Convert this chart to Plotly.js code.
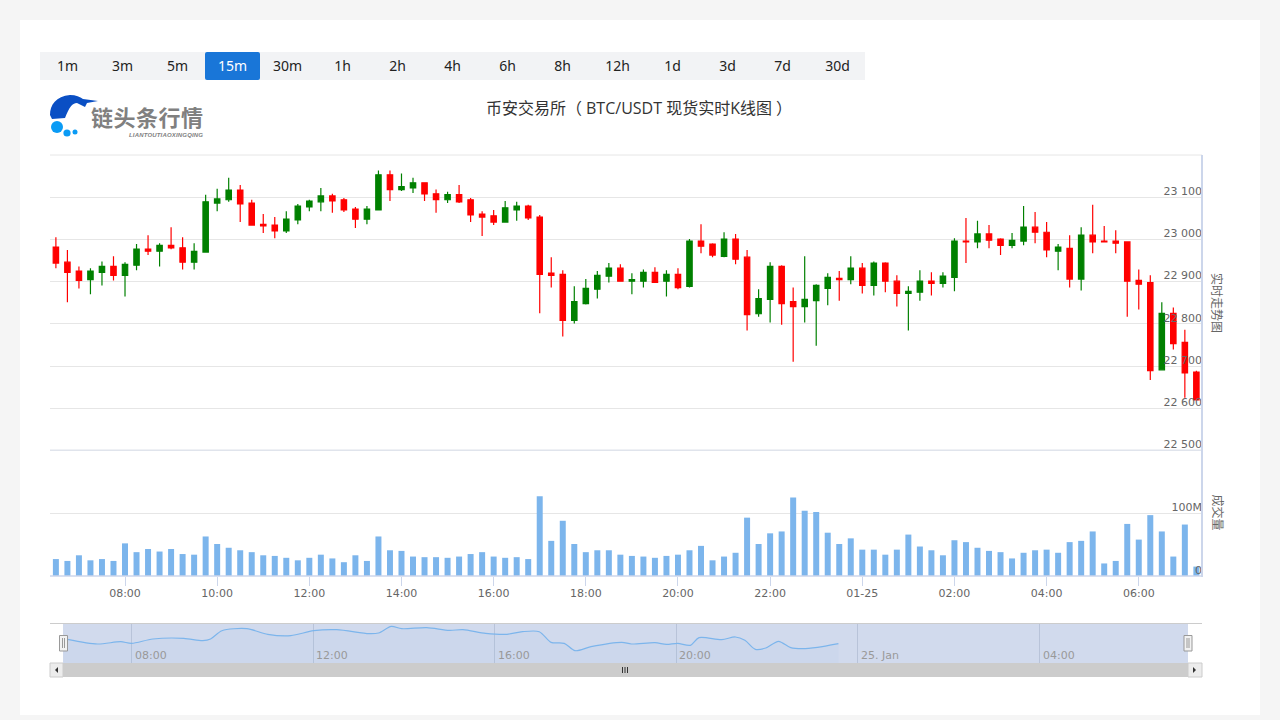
<!DOCTYPE html>
<html><head><meta charset="utf-8">
<script src="https://cdn.plot.ly/plotly-3.0.1.min.js"></script>
<style>
html,body{margin:0;padding:0;width:1280px;height:720px;background:#f5f5f5;overflow:hidden}
#panel{position:absolute;left:20px;top:20px;width:1240px;height:695px;background:#fff}
#chart{position:absolute;left:0;top:0;width:1280px;height:720px}
#bar{position:absolute;left:40px;top:52px;height:28px;display:flex;background:#f2f3f5;z-index:2}
#bar div{width:55px;height:28px;line-height:28px;text-align:center;font:14px/28px "Noto Sans",sans-serif;color:#222;border-radius:2px}
#bar div.on{background:#1976d8;color:#fff}
#logo{position:absolute;left:45px;top:90px;z-index:2}
</style></head><body>
<div id="panel"></div>
<div id="chart"></div>
<div id="bar"></div>
<svg id="logo" width="170" height="52" viewBox="45 90 170 52">
<path d="M50 115C50 105 56 96 70 95C76 95 80 97 83 99L98 101L87 103L85 107L77 103C72 103 69 108 65 118L52 119Z" fill="#0a4fc4"/>
<circle cx="57" cy="127" r="6" fill="#0a9bf5"/><circle cx="67" cy="133" r="3.6" fill="#0a9bf5"/><circle cx="75" cy="132" r="2.5" fill="#0a9bf5"/>
<text x="91" y="126" font-family="Noto Sans CJK SC" font-weight="700" font-size="22" fill="#808080" textLength="112">链头条行情</text>
<text x="129" y="137" font-family="Liberation Sans" font-style="italic" font-weight="700" font-size="6" fill="#808080" textLength="74">LIANTOUTIAOXINGQING</text>
</svg>
<script>
const intervals = ["1m","3m","5m","15m","30m","1h","2h","4h","6h","8h","12h","1d","3d","7d","30d"];
const activeInterval = "15m";
const chartTitle = "币安交易所（ BTC/USDT 现货实时K线图 ）";

const open = [22982,22946,22925,22905,22922,22936,22915,22939,22977,22972,22986,22980,22946,22970,23086,23094,23117,23086,23036,23034,23020,23046,23077,23089,23103,
23094,23072,23048,23070,23153,23118,23122,23134,23108,23094,23106,23094,23060,23056,23041,23070,23079,23053,22920,22917,22808,22848,22882,22913,22932,
22901,22901,22922,22901,22917,22889,22996,22989,22960,23001,22958,22824,22858,22936,22853,22841,22855,22884,22908,22905,22932,22891,22944,22901,22872,22875,
22901,22896,22910,22996,22994,23013,23001,22986,22996,23029,23017,22972,22979,22906,23010,22996,22996,22994,22903,22898,22691,22825,22756,22686];
const high = [23005,22975,22936,22932,22948,22960,22946,22989,23010,22991,23029,23005,22991,23106,23120,23146,23129,23094,23060,23053,23067,23084,23094,23122,23108,
23098,23077,23079,23163,23163,23156,23146,23134,23118,23113,23129,23098,23067,23070,23091,23089,23082,23058,22958,22927,22889,22906,22925,22944,22941,
22920,22929,22934,22927,22932,23001,23036,22991,23017,23013,22975,22882,22946,22939,22886,22960,22894,22920,22925,22960,22944,22948,22946,22915,22889,22927,
22922,22922,23003,23051,23044,23034,23003,23015,23079,23065,23041,22989,23010,23029,23082,23032,23022,22994,22929,22915,22851,22839,22786,22689];
const low = [22932,22851,22884,22870,22891,22903,22865,22927,22963,22936,22977,22929,22929,22970,23067,23089,23041,23034,23015,23003,23015,23036,23067,23067,23063,
23065,23027,23036,23070,23091,23115,23110,23091,23063,23086,23086,23041,23008,23034,23041,23044,23046,22825,22886,22770,22801,22846,22860,22898,22901,
22870,22886,22898,22865,22882,22886,22967,22958,22958,22941,22784,22817,22803,22798,22710,22803,22748,22844,22855,22894,22872,22867,22875,22841,22784,22855,
22867,22886,22877,22944,22979,22979,22963,22979,22986,22991,22958,22927,22886,22879,22967,22994,22967,22817,22834,22667,22691,22739,22625,22620];
const close = [22944,22922,22903,22925,22936,22915,22941,22977,22972,22986,22980,22946,22972,23089,23096,23117,23084,23034,23032,23020,23048,23079,23091,23103,23091,
23070,23048,23072,23153,23118,23125,23134,23108,23094,23106,23089,23058,23053,23041,23075,23079,23051,22917,22915,22808,22853,22884,22915,22932,22901,
22905,22922,22898,22917,22886,22996,22984,22963,23001,22953,22822,22860,22936,22848,22841,22858,22891,22910,22905,22932,22891,22944,22901,22872,22877,22901,
22896,22913,22996,22994,23013,22998,22986,22998,23029,23017,22975,22982,22906,23010,22994,22994,22991,22901,22894,22689,22825,22753,22684,22620];
const volumeM = [27,24,33,25,27,24,52,38,43,39,43,35,34,63,51,45,41,38,33,32,29,25,29,34,28,22,33,24,63,41,40,31,30,30,29,31,35,38,31,29,30,27,127,56,88,51,38,41,41,34,
32,31,29,32,34,41,48,25,31,37,93,51,68,71,125,104,102,69,51,60,42,42,34,42,66,47,41,33,57,54,45,40,38,28,37,41,42,37,54,56,71,20,24,83,58,97,71,31,82,15];
const navHours = [6.5,6.59,7.25,7.76,8.0,8.47,9.15,9.57,9.74,9.99,10.54,11.0,11.51,12.01,12.52,13.23,13.44,13.72,13.95,14.5,15.0,15.3,15.8,16.27,16.61,16.98,17.24,17.53,17.77,18.12,18.8,19.01,19.53,19.78,20.03,20.31,20.5,21.0,21.3,21.51,21.74,21.97,22.25,22.52,22.77,23.11,23.57];
const navPrice = [22943,22925,22841,22883,22853,22931,22943,22901,22931,23080,23116,23014,22991,23080,23098,23026,23038,23158,23116,23134,23086,23098,23032,23014,23062,23062,22871,22853,22721,22793,22871,22841,22865,22835,22853,22817,22955,22919,22967,22907,22745,22769,22889,22775,22757,22781,22847];
const priceTicks = [22500,22600,22700,22800,22900,23000,23100];
const volumeTicks = [0,100];
const volumeTickText = ["0","100M"];
const timeTicks = ["2023-01-24 08:00","2023-01-24 10:00","2023-01-24 12:00","2023-01-24 14:00","2023-01-24 16:00","2023-01-24 18:00","2023-01-24 20:00","2023-01-24 22:00","2023-01-25 00:00","2023-01-25 02:00","2023-01-25 04:00","2023-01-25 06:00"];
const timeTickText = ["08:00","10:00","12:00","14:00","16:00","18:00","20:00","22:00","01-25","02:00","04:00","06:00"];
const navTicks = [8,12,16,20,24,28];
const navTickText = ["08:00","12:00","16:00","20:00","25. Jan","04:00"];

const startMs = Date.UTC(2023,0,24,6,30);
const times = open.map((_,i)=>startMs+i*900000);

document.getElementById('bar').innerHTML = intervals.map(s=>`<div class="${s===activeInterval?'on':''}">${s}</div>`).join('');

const px = x=>(x-50)/1152, py = y=>(663-y)/508;
const rect=(x0,y0,x1,y1,fill,line,layer)=>({type:'rect',xref:'paper',yref:'paper',x0:px(x0),x1:px(x1),y0:py(y0),y1:py(y1),fillcolor:fill,line:{color:line||fill,width:line?1:0},layer:layer||'above'});
const seg=(x0,y0,x1,y1,c,w)=>({type:'line',xref:'paper',yref:'paper',x0:px(x0),x1:px(x1),y0:py(y0),y1:py(y1),line:{color:c,width:w||1}});
const tri=(pts,c)=>({type:'path',xref:'paper',yref:'paper',path:'M'+pts.map(p=>px(p[0])+' '+py(p[1])).join('L')+'Z',fillcolor:c,line:{width:0}});

const shapes=[
 seg(50,155,1202,155,'#e6e6e6'),
 seg(50,450.3,1202,450.3,'#e0e4ec',1.5),
 seg(1202,155,1202,577,'#ccd6eb',2),
 seg(50,576,1203,576,'#ccd6eb',1.5),
 rect(63,624,1188,663,'#d1daed',null,'below'),
 seg(50,623.5,1202,623.5,'#cccccc'),
 rect(50,663,1202,677,'#cccccc'),
 rect(50,663,63,677,'#ececec','#cccccc'),
 rect(1188,663,1202,677,'#ececec','#cccccc'),
 tri([[58,667],[58,673],[55,670]],'#333'),
 tri([[1193,667],[1193,673],[1196,670]],'#333'),
 seg(622.5,667,622.5,673,'#333'),seg(625,667,625,673,'#333'),seg(627.5,667,627.5,673,'#333'),
 rect(59.5,635.5,67.5,651,'#f2f2f2','#999999'),
 seg(62.5,638,62.5,648,'#999999'),seg(64.5,638,64.5,648,'#999999'),
 rect(1184,635.5,1192,651,'#f2f2f2','#999999'),
 seg(1187,638,1187,648,'#999999'),seg(1189,638,1189,648,'#999999')
];

const tickFont={family:'DejaVu Sans',size:11,color:'#666666'};
const sideFont={family:'Noto Sans CJK SC',size:12,color:'#666666'};
const annotations=[
 {text:'实时走势图',xref:'paper',yref:'paper',x:px(1218),y:py(303),xanchor:'center',yanchor:'middle',textangle:90,showarrow:false,font:sideFont},
 {text:'成交量',xref:'paper',yref:'paper',x:px(1218),y:py(512.5),xanchor:'center',yanchor:'middle',textangle:90,showarrow:false,font:sideFont}
].concat(navTicks.map((v,i)=>({text:navTickText[i],xref:'x2',yref:'paper',x:v,y:py(655),xanchor:'left',yanchor:'middle',xshift:1,showarrow:false,font:{family:'DejaVu Sans',size:11,color:'#999999'}})));

const traces=[
 {type:'candlestick',x:times,open,high,low,close,xaxis:'x',yaxis:'y',whiskerwidth:0,
  increasing:{line:{color:'#008000',width:1.2},fillcolor:'#008000'},
  decreasing:{line:{color:'#ff0000',width:1.2},fillcolor:'#ff0000'},hoverinfo:'skip'},
 {type:'bar',x:times,y:volumeM,xaxis:'x',yaxis:'y2',marker:{color:'#7cb5ec',line:{width:0}},hoverinfo:'skip'},
 {type:'scatter',mode:'lines',x:navHours,y:navPrice,xaxis:'x2',yaxis:'y3',line:{color:'#7cb5ec',width:1.2,shape:'spline',smoothing:0.8},fill:'tozeroy',fillcolor:'rgba(124,181,236,0.05)',hoverinfo:'skip'}
];

const layout={
 width:1280,height:720,paper_bgcolor:'rgba(0,0,0,0)',plot_bgcolor:'rgba(0,0,0,0)',showlegend:false,
 margin:{l:50,r:78,t:155,b:57,pad:0},bargap:0.48,boxgap:0.33,
 title:{text:chartTitle,x:639/1280,xref:'container',xanchor:'center',y:1-108/720,yref:'container',yanchor:'middle',font:{family:'Open Sans, Noto Sans CJK TC',size:16,color:'#333333'}},
 xaxis:{type:'date',domain:[0,1],anchor:'y2',range:[Date.UTC(2023,0,24,6,22,20),Date.UTC(2023,0,25,7,22,20)],rangeslider:{visible:false},
  tickmode:'array',tickvals:timeTicks,ticktext:timeTickText,ticks:'outside',ticklen:9,tickcolor:'#ccd6eb',tickfont:tickFont,ticklabelstandoff:-2,showgrid:false,showline:false,zeroline:false,fixedrange:true},
 yaxis:{domain:[212.5/508,1],range:[22500,23200],anchor:'x',side:'right',tickmode:'array',tickvals:priceTicks,tickformat:',d',ticks:'',ticklabelposition:'inside',ticklabeloverflow:'allow',ticklabelshift:-6,ticklabelstandoff:-3,tickfont:tickFont,gridcolor:'#e6e6e6',gridwidth:1,showline:false,zeroline:false,fixedrange:true},
 yaxis2:{domain:[87/508,212.5/508],range:[0,200],anchor:'x',side:'right',tickmode:'array',tickvals:volumeTicks,ticktext:volumeTickText,ticks:'',ticklabelposition:'inside',ticklabeloverflow:'allow',ticklabelshift:-6,ticklabelstandoff:-3,tickfont:tickFont,gridcolor:'#e6e6e6',showline:false,zeroline:false,fixedrange:true},
 xaxis2:{domain:[px(63),px(1188)],range:[6.49,31.27],anchor:'y3',tickmode:'array',tickvals:navTicks,showticklabels:false,ticks:'',showgrid:true,gridcolor:'#b8c3d9',gridwidth:1,zeroline:false,showline:false,fixedrange:true},
 yaxis3:{domain:[0,39/508],range:[22500,23200],anchor:'x2',showticklabels:false,ticks:'',showgrid:false,zeroline:false,showline:false,fixedrange:true},
 separators:'. ',shapes,annotations
};
Plotly.newPlot('chart',traces,layout,{displayModeBar:false,responsive:false});
</script>
</body></html>
